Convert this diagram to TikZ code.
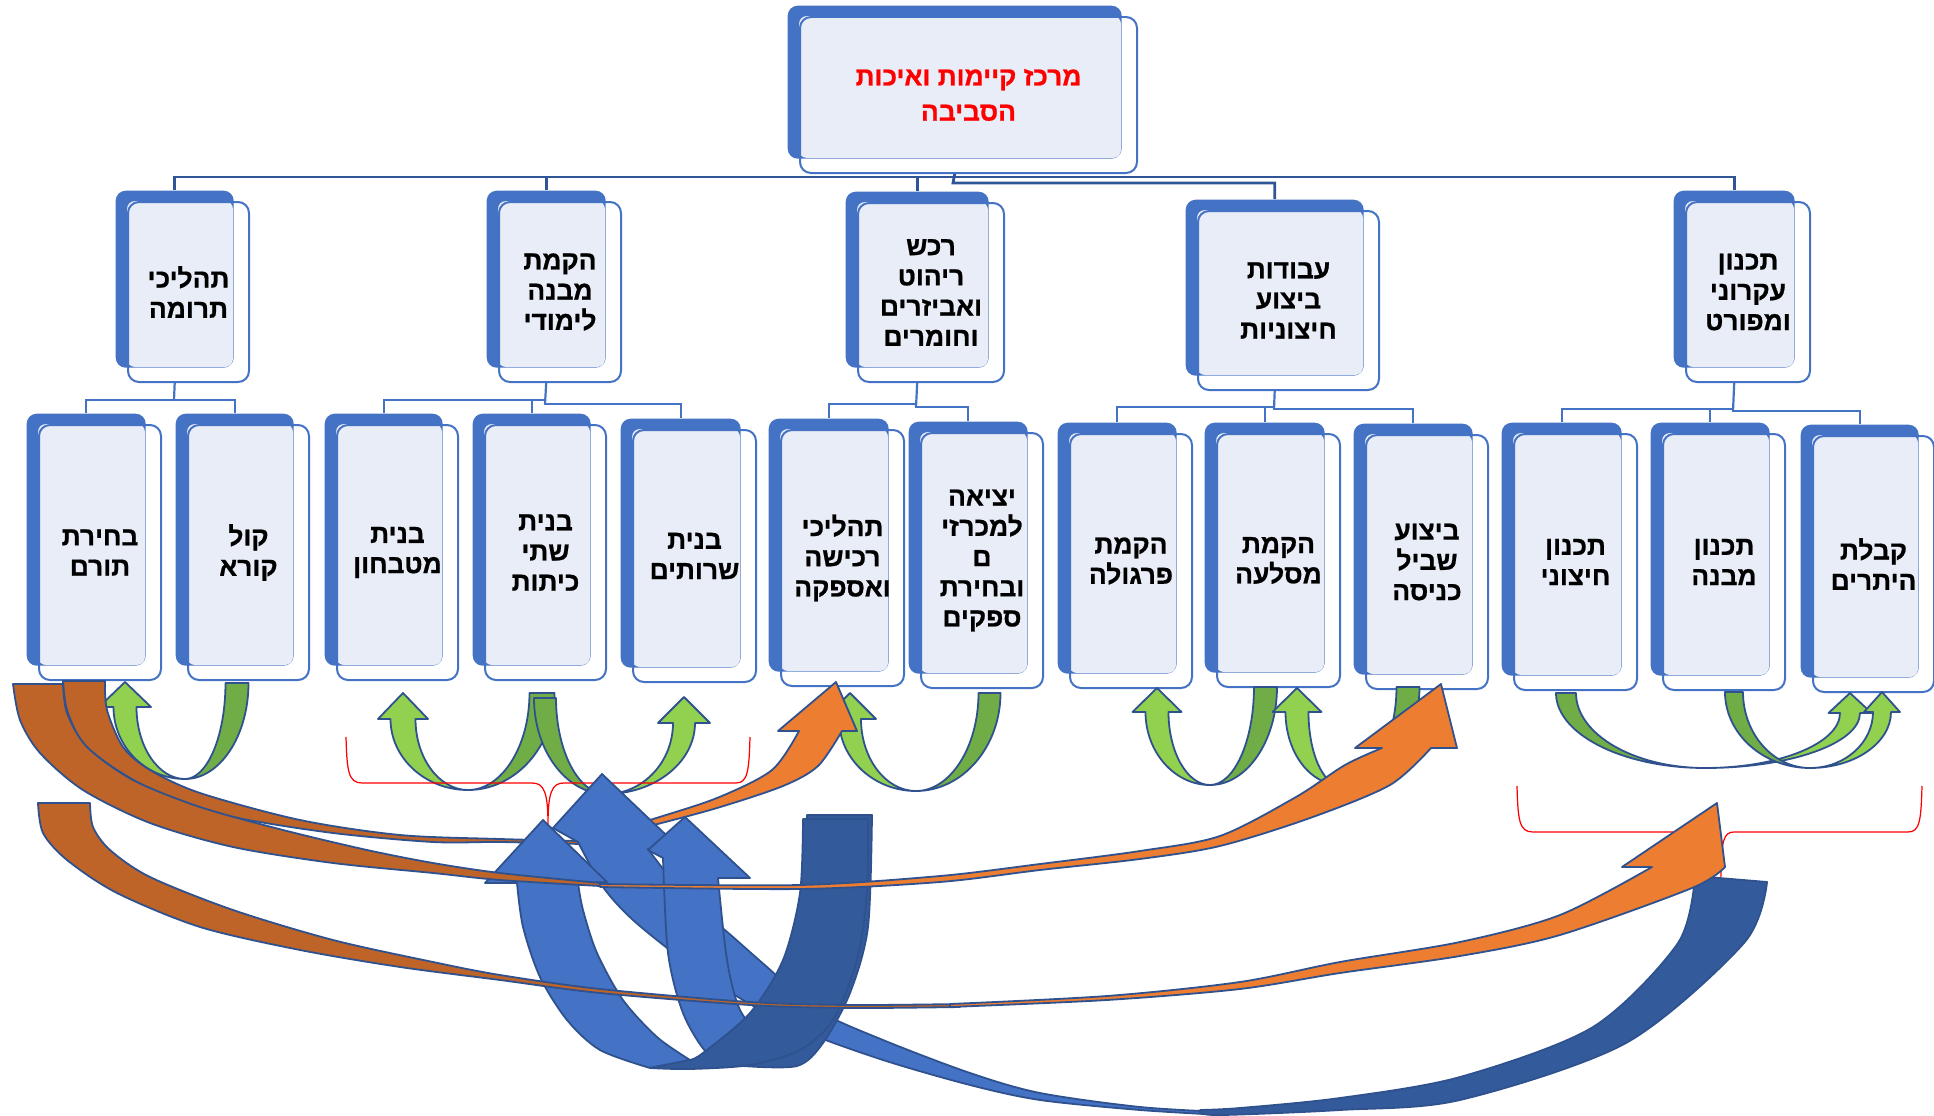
\documentclass[tikz,border=0pt]{standalone}
\usepackage{fontspec}
\newfontfamily\hebfont[Script=Hebrew, BoldFeatures={FakeBold=0.8}]{Liberation Sans}
\TeXXeTstate=1
\definecolor{boxBlue}{HTML}{4472C4}
\definecolor{boxLight}{HTML}{E9EDF7}
\definecolor{lineBlue}{HTML}{2F5597}
\definecolor{arrEdge}{HTML}{2F528F}
\definecolor{greenDark}{HTML}{70AD47}
\definecolor{greenLight}{HTML}{92D050}
\definecolor{orangeHead}{HTML}{ED7D31}
\definecolor{orangeTail}{HTML}{BE6428}
\definecolor{blueArm}{HTML}{4472C4}
\definecolor{blueBack}{HTML}{335A9A}
\newcommand\rl[1]{\beginR#1\endR}
% card: [extra options] name, front x, front y, width, height, text
\newcommand\card[7][]{%
  \node[backcard, minimum width={(#5-3)*0.1mm}, minimum height={(#6-3)*0.1mm}] (#2-b) at ({#3-12},{#4-11}) {};
  \fill[boxLight, rounded corners=0.8mm] (#3,#4) rectangle ({#3+#5-15},{#4+#6-14});
  \node[frontcard, minimum width={#5*0.1mm}, minimum height={#6*0.1mm}, #1] (#2) at (#3,#4) {#7};
}
% u-turn arrow: head x, tip y, base y, head half width, shaft half width, tail x, tail y, bottom x, bottom y
\newcommand\uarrow[9]{%
  \filldraw[arrline, fill=greenDark] ({#6-#5},#7) .. controls ({#6-#5},{#7+0.55*(#9-#7)}) and ({#8+0.55*(#6-#5-#8)},#9) .. (#8,#9)
    .. controls ({#8+0.55*(#6+#5-#8)},#9) and ({#6+#5},{#7+0.55*(#9-#7)}) .. ({#6+#5},#7) -- cycle;
  \filldraw[arrline, fill=greenLight] (#8,#9) .. controls ({#8+0.55*(#1-#5-#8)},#9) and ({#1-#5},{#3+0.55*(#9-#3)}) .. ({#1-#5},#3)
    -- ({#1-#4},#3) -- (#1,#2) -- ({#1+#4},#3) -- ({#1+#5},#3)
    .. controls ({#1+#5},{#3+0.55*(#9-#3)}) and ({#8+0.55*(#1+#5-#8)},#9) .. (#8,#9) -- cycle;
}

\begin{document}
\begin{tikzpicture}[x=0.1mm, y=-0.1mm,
    backcard/.style={anchor=north west, fill=boxBlue, rounded corners=1mm, inner sep=0pt},
    frontcard/.style={anchor=north west, draw=boxBlue, line width=0.2mm, rounded corners=1.1mm,
      align=center, inner sep=1pt, font=\hebfont\bfseries\fontsize{7.5}{8.6}\selectfont},
    topline/.style={draw=lineBlue, line width=0.28mm},
    subline/.style={draw=boxBlue, line width=0.22mm},
    arrline/.style={draw=arrEdge, line width=0.18mm, line join=round},
    brace/.style={draw=red, line width=0.35pt}]
  \useasboundingbox (0,0) rectangle (1934,1116);

  % top box
  \card[text=red, font=\hebfont\bfseries\fontsize{7.5}{10}\selectfont]{root}{799}{16}{337}{156}{\rl{מרכז קיימות ואיכות}\\\rl{הסביבה}}

  % first level
  \card{donate}{127}{201}{121}{180}{\rl{תהליכי}\\\rl{תרומה}}
  \card{study}{498}{201}{122}{180}{\rl{הקמת}\\\rl{מבנה}\\\rl{לימודי}}
  \card{purchase}{857}{202}{146}{179}{\rl{רכש}\\\rl{ריהוט}\\\rl{ואביזרים}\\\rl{וחומרים}}
  \card{outdoor}{1197}{210}{181}{179}{\rl{עבודות}\\\rl{ביצוע}\\\rl{חיצוניות}}
  \card{plan}{1685}{201}{124}{180}{\rl{תכנון}\\\rl{עקרוני}\\\rl{ומפורט}}

  % second level
  \card{donor}{38}{424}{122}{255}{\rl{בחירת}\\\rl{תורם}}
  \card{call}{187}{424}{121}{255}{\rl{קול}\\\rl{קורא}}
  \card{kitchen}{336}{424}{121}{255}{\rl{בנית}\\\rl{מטבחון}}
  \card{classes}{484}{424}{121}{255}{\rl{בנית}\\\rl{שתי}\\\rl{כיתות}}
  \card{toilets}{632}{429}{123}{252}{\rl{בנית}\\\rl{שרותים}}
  \card{procure}{780}{429}{123}{256}{\rl{תהליכי}\\\rl{רכישה}\\\rl{ואספקה}}
  \card{tenders}{920}{432}{122}{255}{\rl{יציאה}\\\rl{למכרזי}\\\rl{ם}\\\rl{ובחירת}\\\rl{ספקים}}
  \card{pergola}{1069}{433}{122}{254}{\rl{הקמת}\\\rl{פרגולה}}
  \card{rockery}{1216}{433}{123}{253}{\rl{הקמת}\\\rl{מסלעה}}
  \card{path}{1365}{434}{122}{254}{\rl{ביצוע}\\\rl{שביל}\\\rl{כניסה}}
  \card{extplan}{1513}{433}{123}{256}{\rl{תכנון}\\\rl{חיצוני}}
  \card{bldplan}{1662}{433}{122}{256}{\rl{תכנון}\\\rl{מבנה}}
  \card{permits}{1812}{435}{121}{256}{\rl{קבלת}\\\rl{היתרים}}

  % tree lines
  \coordinate (busA) at (953,177);
  \coordinate (busB) at (953,183);
  \draw[topline] (donate-b.north) |- (busA) -| (plan-b.north);
  \draw[topline] (study-b.north) -- (study-b.north |- busA);
  \draw[topline] (purchase-b.north) -- (purchase-b.north |- busA);
  \draw[topline] (root-b.south |- root.south) -- (busB) -| (outdoor-b.north);

  \coordinate (j1) at (174,400);
  \draw[subline] (donate-b.south |- donate.south) -- (j1);
  \draw[subline] (donor-b.north) |- (j1) -| (call-b.north);
  \coordinate (j2) at (545,400);
  \coordinate (j2x) at (545,404);
  \draw[subline] (study-b.south |- study.south) -- (j2x);
  \draw[subline] (kitchen-b.north) |- (j2) -- (j2x) -| (toilets-b.north);
  \draw[subline] (classes-b.north) -- (classes-b.north |- j2);
  \coordinate (j3) at (916,404);
  \coordinate (j3x) at (916,407);
  \draw[subline] (purchase-b.south |- purchase.south) -- (j3x);
  \draw[subline] (procure-b.north) |- (j3) -- (j3x) -| (tenders-b.north);
  \coordinate (j4) at (1274,407);
  \coordinate (j4x) at (1274,409);
  \draw[subline] (outdoor-b.south |- outdoor.south) -- (j4x);
  \draw[subline] (pergola-b.north) |- (j4) -- (j4x) -| (path-b.north);
  \draw[subline] (rockery-b.north) -- (rockery-b.north |- j4);
  \coordinate (j5) at (1733,409);
  \coordinate (j5x) at (1733,411);
  \draw[subline] (plan-b.south |- plan.south) -- (j5x);
  \draw[subline] (extplan-b.north) |- (j5) -- (j5x) -| (permits-b.north);
  \draw[subline] (bldplan-b.north) -- (bldplan-b.north |- j5);

  % green turn arrows
  \uarrow{125}{682}{707}{26}{11.5}{237}{683}{185}{779}
  \uarrow{403}{693}{719}{25}{12.5}{542}{693}{468}{790}
  \uarrow{684}{697}{723}{26}{11}{545}{698}{606}{794}
  \uarrow{850}{693}{719}{26}{11}{989.5}{693}{916}{791}
  \uarrow{1157}{688}{712}{24.5}{11.5}{1265.5}{687}{1210}{785}
  \uarrow{1297}{688}{712}{24.5}{11.5}{1408}{687}{1340}{785}
  \uarrow{1850}{693}{713}{21.5}{10}{1566}{693}{1705}{768}
  \uarrow{1882}{692}{712}{18}{9}{1734}{692}{1810}{768}

  % red brackets
  \draw[brace] (346,737) .. controls (347,770) and (348,783) .. (362,783) -- (532,783)
    .. controls (544,783) and (548,792) .. (548,825) .. controls (548,792) and (552,783) .. (564,783)
    -- (736,783) .. controls (748,783) and (749,770) .. (750,737);
  \draw[brace] (1517,786) .. controls (1518,820) and (1519,832) .. (1533,832) -- (1708,832)
    .. controls (1718,832) and (1721,840) .. (1721,877) .. controls (1721,840) and (1724,832) .. (1734,832)
    -- (1908,832) .. controls (1920,832) and (1921,820) .. (1922,786);

  % orange arrow to the purchase branch
  \filldraw[arrline, fill=orangeTail] plot[smooth] coordinates {(63,681) (67,710) (83,743) (117,770) (167,797) (233,817) (333,833) (433,842) (500,842) (580,844)}
    -- plot[smooth] coordinates {(580,841) (500,839) (400,835) (300,820) (200,793) (150,770) (123,747) (107,710) (105,681)} -- cycle;
  \filldraw[arrline, fill=orangeHead] plot[smooth] coordinates {(580,842) (650,820) (717,798) (772,770) (799,731)}
    -- (778,731) -- (836,682) -- (857,731) -- (842,731)
    -- plot[smooth] coordinates {(842,731) (818,766) (783,786) (717,808) (650,826) (580,844)} -- cycle;

  % blue arrows
  \filldraw[arrline, fill=blueArm] (578,842) -- (553,828) -- (602,774) -- (685,853) -- (648,849)
    -- plot[smooth] coordinates {(648,849) (683,893) (733,937) (767,967) (817,1010) (883,1040) (970,1073) (1040,1093) (1140,1107) (1223,1112)}
    -- plot[smooth] coordinates {(1223,1115) (1140,1110) (1040,1100) (970,1085) (883,1060) (800,1030) (743,1000) (683,960) (633,920) (603,887) (578,842)} -- cycle;
  \filldraw[arrline, fill=blueBack] plot[smooth] coordinates {(1200,1113) (1223,1115) (1340,1110) (1460,1100) (1626,1043) (1744,943) (1767,882)}
    -- (1695,876) -- plot[smooth] coordinates {(1695,876) (1678,943) (1593,1027) (1460,1077) (1340,1098) (1240,1108) (1200,1110)} -- cycle;
  \filldraw[arrline, fill=blueArm] (663,858) -- (648,850) -- (685,817) -- (750,878) -- (718,878)
    -- plot[smooth] coordinates {(718,878) (727,960) (740,1010) (765,1040) (790,1062)}
    -- plot[smooth] coordinates {(735,1066) (707,1053) (683,1013) (668,953) (663,858)} -- cycle;
  \filldraw[arrline, fill=blueBack] plot[smooth] coordinates {(743,1066) (797,1066) (823,1043) (850,993) (868,927) (872,815)}
    -- (807,815) -- plot[smooth] coordinates {(807,815) (804,893) (790,960) (760,1020) (730,1055)} -- cycle;
  \filldraw[arrline, fill=blueArm] (517,883) -- (485,883) -- (543,820) -- (607,882) -- (578,883)
    -- plot[smooth] coordinates {(578,883) (583,910) (597,953) (623,1000) (657,1037) (690,1060)}
    -- plot[smooth] coordinates {(650,1068) (600,1050) (567,1020) (540,977) (523,927) (517,883)} -- cycle;
  \filldraw[arrline, fill=blueBack] plot[smooth] coordinates {(650,1068) (690,1069) (750,1065) (800,1050) (833,1020) (857,960) (867,893) (868,819)}
    -- (803,819) -- plot[smooth] coordinates {(803,819) (800,893) (783,960) (750,1013) (703,1053) (690,1060)} -- cycle;

  % orange arrow to the path branch
  \filldraw[arrline, fill=orangeTail] plot[smooth] coordinates {(13,684) (20,720) (40,753) (83,790) (150,823) (233,847) (333,863) (433,873) (500,880) (600,886)}
    -- plot[smooth] coordinates {(600,883) (500,873) (433,863) (367,850) (283,830) (200,807) (133,780) (87,747) (67,713) (63,684)} -- cycle;
  \filldraw[arrline, fill=orangeHead] plot[smooth] coordinates {(600,884) (800,885) (940,876) (1040,864) (1140,851) (1220,836) (1296,797) (1345,765) (1382,748)}
    -- (1355,748) -- (1441,684) -- (1457,748) -- (1431,748)
    -- plot[smooth] coordinates {(1431,748) (1390,785) (1310,818) (1220,846) (1140,859) (1040,870) (940,882) (800,889) (600,887)} -- cycle;

  % orange arrow to the planning branch
  \filldraw[arrline, fill=orangeTail] plot[smooth] coordinates {(38,803) (43,833) (67,860) (117,893) (200,927) (300,950) (400,967) (500,980) (600,993) (750,1005) (850,1008) (960,1007)}
    -- plot[smooth] coordinates {(960,1004) (850,1005) (750,1002) (600,989) (500,975) (433,962) (333,940) (233,910) (150,877) (110,850) (93,827) (90,803)} -- cycle;
  \filldraw[arrline, fill=orangeHead] plot[smooth] coordinates {(950,1004) (1107,996) (1240,982) (1340,962) (1460,942) (1560,915) (1652,867)}
    -- (1622,867) -- (1717,803) -- (1725,867)
    -- plot[smooth] coordinates {(1725,867) (1692,888) (1560,935) (1460,956) (1340,973) (1240,989) (1107,1000) (950,1007)} -- cycle;
\end{tikzpicture}
\end{document}
